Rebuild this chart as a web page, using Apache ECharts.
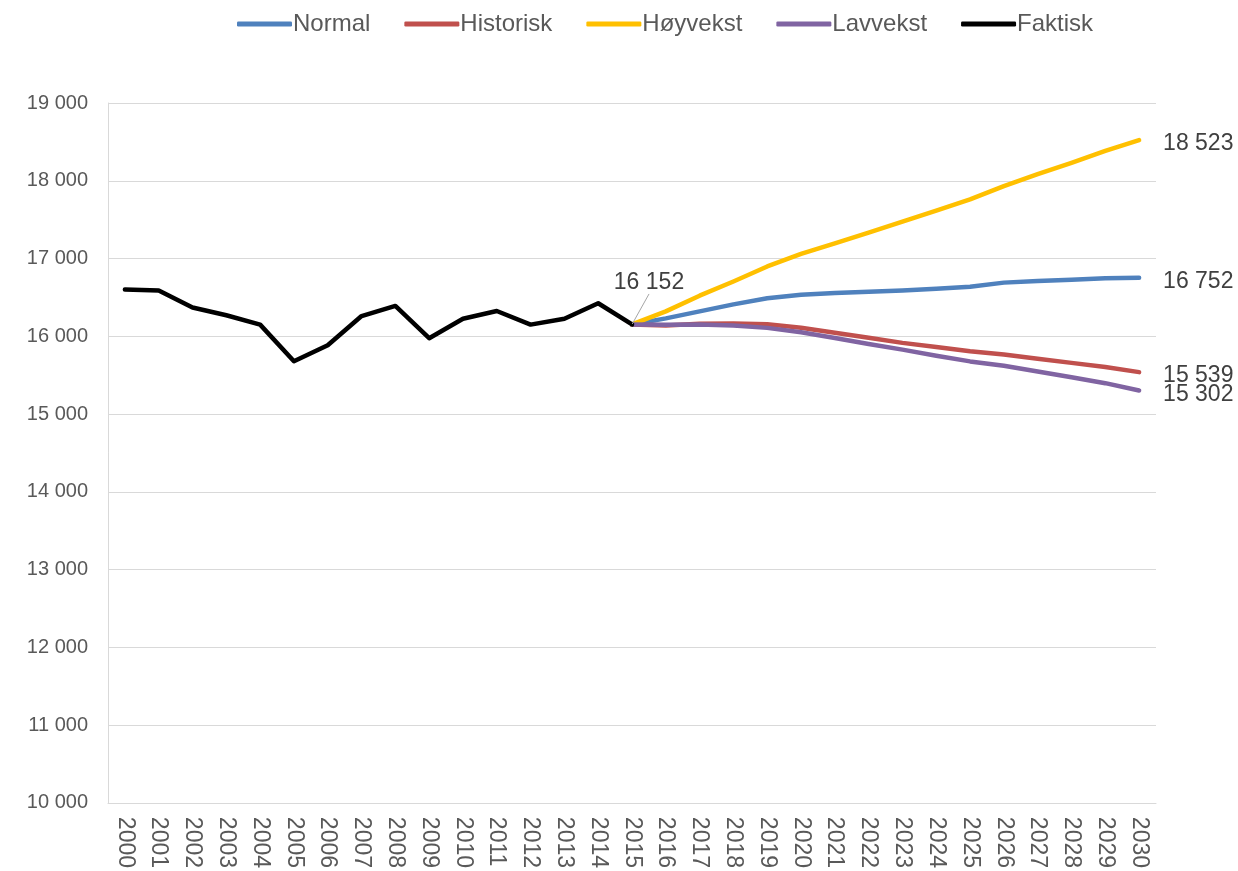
<!DOCTYPE html>
<html>
<head>
<meta charset="utf-8">
<script src="https://cdn.jsdelivr.net/npm/echarts@6/dist/echarts.min.js"></script>
<style>
  html, body { margin: 0; padding: 0; background: #fff; }
  #chart { width: 1238px; height: 871px; }
</style>
</head>
<body>
<div id="chart"></div>
<script>
// år
var years = [];
for (var y = 2000; y <= 2030; y++) years.push(String(y));

// faktisk 2000-2015
var faktisk = [16600, 16590, 16370, 16270, 16150, 15680, 15885, 16260, 16390, 15975, 16225, 16325, 16150, 16225, 16425, 16152];

// framskrivinger 2015-2030
var normal    = [16152, 16230, 16320, 16410, 16490, 16535, 16558, 16573, 16590, 16612, 16638, 16690, 16711, 16728, 16745, 16752];
var historisk = [16152, 16140, 16160, 16163, 16155, 16110, 16045, 15980, 15915, 15863, 15808, 15765, 15710, 15658, 15605, 15539];
var hoyvekst  = [16152, 16320, 16522, 16705, 16898, 17060, 17196, 17333, 17474, 17615, 17760, 17931, 18085, 18230, 18383, 18523];
var lavvekst  = [16152, 16147, 16151, 16138, 16108, 16052, 15978, 15900, 15828, 15750, 15677, 15620, 15547, 15474, 15397, 15302];

var yMin = 10000, yMax = 19000, yStep = 1000;

function fmt(v) {
  return String(Math.round(v)).replace(/\B(?=(\d{3})+(?!\d))/g, ' ');
}

// skyv framskrivinger til 2015
function pad(arr) {
  var out = [];
  for (var i = 0; i < 15; i++) out.push(null);
  return out.concat(arr);
}

var font = 'Liberation Sans, Arial, sans-serif';

function proj(name, data, color) {
  return {
    name: name,
    type: 'line',
    data: pad(data),
    symbol: 'none',
    lineStyle: { width: 4.5, color: color, cap: 'round', join: 'round' },
    itemStyle: { color: color },
    endLabel: {
      show: true,
      distance: 24,
      offset: [0, 4],
      formatter: function (p) { return fmt(p.value); },
      color: '#404040',
      fontSize: 23,
      fontFamily: font
    },
    z: 2
  };
}

var faktiskData = faktisk.map(function (v, i) {
  if (i === faktisk.length - 1) {
    return {
      value: v,
      symbol: 'circle',
      symbolSize: 1,
      label: {
        show: true,
        position: 'top',
        formatter: function (p) { return fmt(p.value); },
        color: '#404040',
        fontSize: 23,
        fontFamily: font
      }
    };
  }
  return v;
});

var option = {
  animation: false,
  backgroundColor: '#fff',
  legend: {
    top: 7,
    left: 232,
    itemWidth: 55,
    itemHeight: 5,
    itemGap: 34,
    icon: 'roundRect',
    textStyle: { color: '#595959', fontSize: 24, fontFamily: font, padding: [0, 0, 0, -4] },
    data: ['Normal', 'Historisk', 'Høyvekst', 'Lavvekst', 'Faktisk']
  },
  grid: { left: 108, right: 82, top: 103, bottom: 66, containLabel: false },
  xAxis: {
    type: 'category',
    data: years,
    boundaryGap: true,
    axisLine: { lineStyle: { color: '#d9d9d9', width: 1 } },
    axisTick: { show: false },
    axisLabel: { interval: 0, rotate: -90, margin: 14, color: '#595959', fontSize: 23, fontFamily: font }
  },
  yAxis: {
    type: 'value',
    min: yMin,
    max: yMax,
    interval: yStep,
    axisLine: { show: true, lineStyle: { color: '#d9d9d9', width: 1 } },
    axisTick: { show: false },
    splitLine: { lineStyle: { color: '#d9d9d9', width: 1 } },
    axisLabel: { margin: 20, color: '#595959', fontSize: 20, fontFamily: font, formatter: fmt }
  },
  series: [
    proj('Normal', normal, '#4f81bd'),
    proj('Historisk', historisk, '#c0504d'),
    proj('Høyvekst', hoyvekst, '#ffc000'),
    proj('Lavvekst', lavvekst, '#8064a2'),
    {
      name: 'Faktisk',
      type: 'line',
      data: faktiskData,
      symbol: 'none',
      lineStyle: { width: 4.5, color: '#000000', cap: 'round', join: 'round' },
      itemStyle: { color: '#000000' },
      labelLayout: { dx: 17, dy: -25 },
      labelLine: { show: true, lineStyle: { color: '#a6a6a6', width: 1 } },
      z: 3
    }
  ]
};

var chart = echarts.init(document.getElementById('chart'));
chart.setOption(option);
</script>
</body>
</html>
